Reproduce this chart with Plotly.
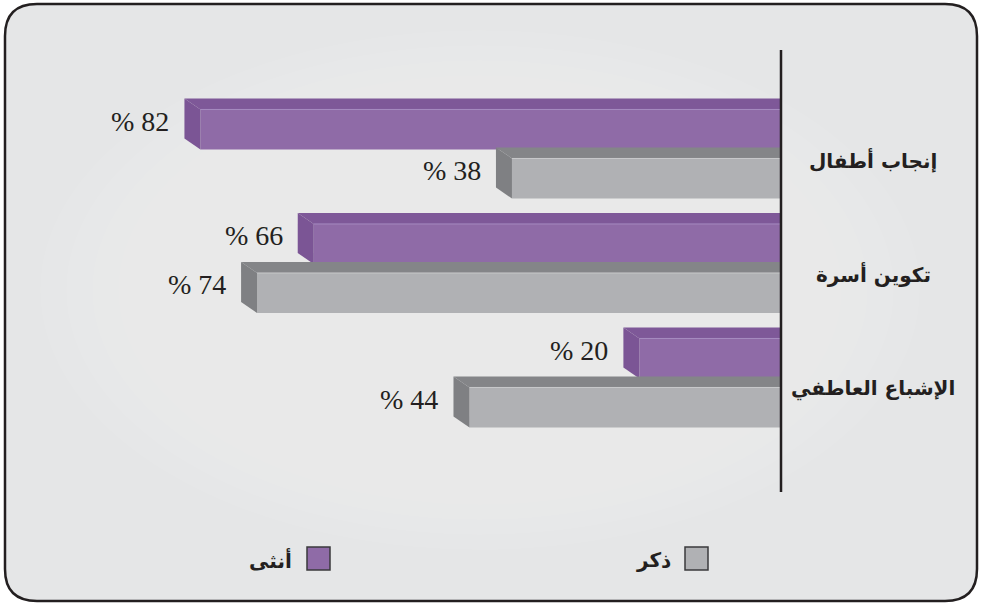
import plotly.graph_objects as go

# ---------------- data ----------------
categories = ["إنجاب أطفال", "تكوين أسرة", "الإشباع العاطفي"]
female = [82, 66, 20]
male = [38, 74, 44]
series_names = ["أنثى", "ذكر"]
value_suffix = "% "

# ---------------- layout constants ----------------
W, H = 982, 605
X0 = 781          # pixel of value 0 (axis line)
PX = 7.08         # pixels per percent
PL = 100          # left edge of plot area
R = (X0 - PL) / PX
PLOT_TOP, PLOT_BOT = 50, 492
GROUP = 114.5     # pixels per category
C0 = 154          # pixel of first category centre
y_first = -(C0 - PLOT_TOP) / GROUP
y_last = y_first + (PLOT_BOT - PLOT_TOP) / GROUP

BW = 0.35
OFF_F = -0.214 - BW / 2
OFF_M = 0.214 - BW / 2
DX = 16 / PX
DY = 11 / GROUP

COL_F = dict(front="#8F6BA7", top="#7E5898", side="#7B5595", edge="#A68AC0")
COL_M = dict(front="#B0B1B4", top="#848588", side="#7F8083", edge="#C8C9CB")


def P(px, py):
    return px / W, 1 - py / H


fig = go.Figure()
ypos = list(range(len(categories)))

fig.add_trace(go.Bar(orientation="h", y=ypos, x=female, width=BW, offset=OFF_F,
                     marker=dict(color=COL_F["front"], line=dict(width=0)),
                     name=series_names[0], showlegend=False, hoverinfo="x"))
fig.add_trace(go.Bar(orientation="h", y=ypos, x=male, width=BW, offset=OFF_M,
                     marker=dict(color=COL_M["front"], line=dict(width=0)),
                     name=series_names[1], showlegend=False, hoverinfo="x"))

shapes = []
annotations = []

# background: rounded frame
x0p, y0p, x1p, y1p, r = 5, 4, 977, 601, 32
def pt(px, py):
    a, b = P(px, py)
    return f"{a:.5f},{b:.5f}"
path = (f"M {pt(x0p + r, y0p)} L {pt(x1p - r, y0p)} Q {pt(x1p, y0p)} {pt(x1p, y0p + r)} "
        f"L {pt(x1p, y1p - r)} Q {pt(x1p, y1p)} {pt(x1p - r, y1p)} "
        f"L {pt(x0p + r, y1p)} Q {pt(x0p, y1p)} {pt(x0p, y1p - r)} "
        f"L {pt(x0p, y0p + r)} Q {pt(x0p, y0p)} {pt(x0p + r, y0p)} Z")
shapes.append(dict(type="path", xref="paper", yref="paper", path=path,
                   fillcolor="#E5E6E7", line=dict(width=0), layer="below"))
# soft lighter centre
for k in range(14):
    rx = 440 - k * 26
    ry = 260 - k * 15
    cx, cy = 480, 290
    a0, b0 = P(cx - rx, cy + ry)
    a1, b1 = P(cx + rx, cy - ry)
    shapes.append(dict(type="circle", xref="paper", yref="paper", x0=a0, y0=b0, x1=a1, y1=b1,
                       fillcolor="rgba(255,255,255,0.045)", line=dict(width=0), layer="below"))
shapes.append(dict(type="path", xref="paper", yref="paper", path=path,
                   fillcolor="rgba(0,0,0,0)", line=dict(color="#231F20", width=2.5), layer="above"))

# 3D faces + value labels
for vals, off, col in ((female, OFF_F, COL_F), (male, OFF_M, COL_M)):
    for i, v in enumerate(vals):
        yt = i + off
        yb = yt + BW
        shapes.append(dict(type="path", xref="x", yref="y", line=dict(width=0),
                           fillcolor=col["top"], layer="above",
                           path=f"M {v},{yt} L {v + DX},{yt - DY} L 0,{yt - DY} L 0,{yt} Z"))
        shapes.append(dict(type="path", xref="x", yref="y", line=dict(width=0),
                           fillcolor=col["side"], layer="above",
                           path=f"M {v},{yt} L {v + DX},{yt - DY} L {v + DX},{yb - DY} L {v},{yb} Z"))
        shapes.append(dict(type="line", xref="x", yref="y", x0=v, x1=0, y0=yt, y1=yt,
                           line=dict(color=col["edge"], width=1), layer="above"))
        annotations.append(dict(x=v, y=(yt + yb) / 2, xref="x", yref="y",
                                text=f"{value_suffix}{v}", showarrow=False,
                                xanchor="right", yanchor="middle", xshift=-29, yshift=8,
                                font=dict(family="Liberation Serif", size=28, color="#231F20")))

# axis line (paper coords so it is not clipped at the plot edge)
a, b0 = P(X0, PLOT_BOT)
_, b1 = P(X0, PLOT_TOP)
shapes.append(dict(type="line", xref="paper", yref="paper", x0=a, x1=a, y0=b0, y1=b1,
                   line=dict(color="#231F20", width=2.5), layer="above"))

# category labels
for i, c in enumerate(categories):
    annotations.append(dict(x=873 / W, y=i, xref="paper", yref="y", text=f"<b>{c}</b>",
                            showarrow=False, xanchor="center", yanchor="middle", yshift=-6,
                            font=dict(family="DejaVu Sans", size=20, color="#231F20")))

# legend (square + label)
for name, col, sx, tx in ((series_names[0], COL_F["front"], 307, 294),
                          (series_names[1], COL_M["front"], 685, 673)):
    a0, b0 = P(sx, 570)
    a1, b1 = P(sx + 23, 547)
    shapes.append(dict(type="rect", xref="paper", yref="paper", x0=a0, y0=b0, x1=a1, y1=b1,
                       fillcolor=col, line=dict(color="#3A3A3C", width=1.5), layer="above"))
    ta, tb = P(tx, 560)
    annotations.append(dict(x=ta, y=tb, xref="paper", yref="paper", text=f"<b>{name}</b>",
                            showarrow=False, xanchor="right", yanchor="middle",
                            font=dict(family="DejaVu Sans", size=20, color="#231F20")))

fig.update_layout(
    width=W, height=H, margin=dict(l=0, r=0, t=0, b=0),
    paper_bgcolor="white", plot_bgcolor="rgba(0,0,0,0)",
    barmode="overlay", showlegend=False,
    xaxis=dict(domain=[PL / W, X0 / W], range=[R, 0], visible=False, fixedrange=True),
    yaxis=dict(domain=[1 - PLOT_BOT / H, 1 - PLOT_TOP / H], range=[y_last, y_first],
               visible=False, fixedrange=True),
    shapes=shapes, annotations=annotations,
)

fig.write_html("out.html", config={"displayModeBar": False})

# remove the default page margin so the figure fills the window exactly
with open("out.html", encoding="utf-8") as f:
    html = f.read()
html = html.replace("<head>", "<head><style>html,body{margin:0;padding:0;overflow:hidden;}</style>", 1)
with open("out.html", "w", encoding="utf-8") as f:
    f.write(html)
